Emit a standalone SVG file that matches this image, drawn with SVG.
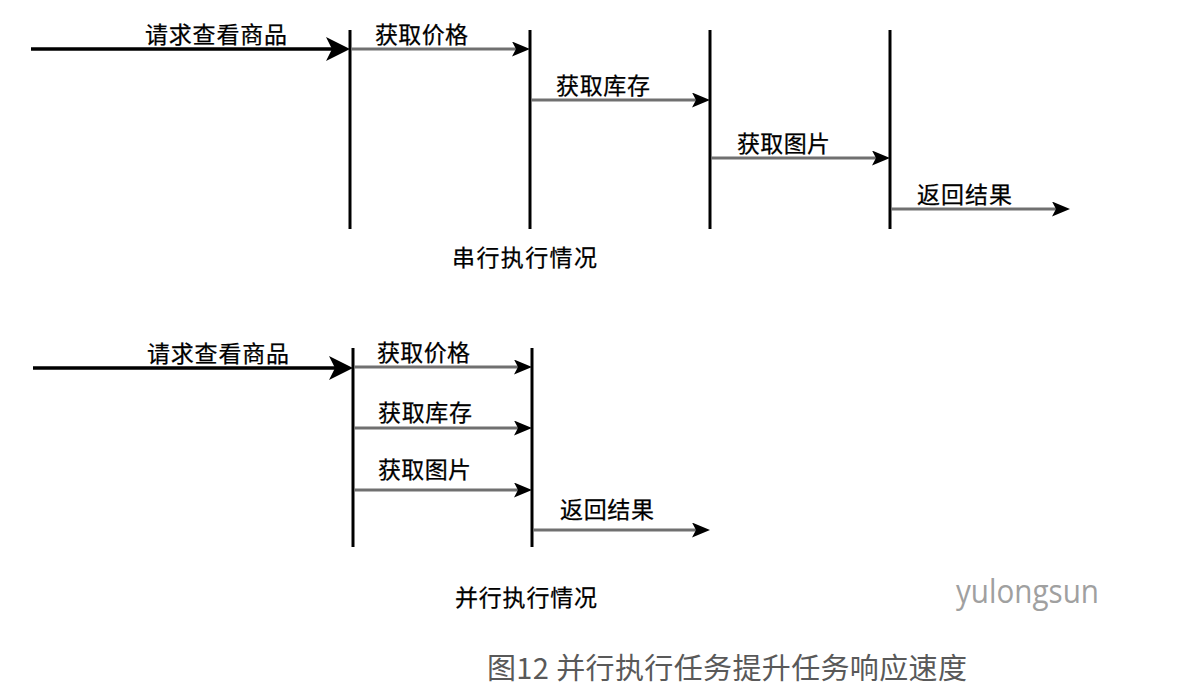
<svg xmlns="http://www.w3.org/2000/svg" width="1199" height="698" viewBox="0 0 1199 698">
  <style>
    .bar { stroke: #000; stroke-width: 3; fill: none; }
    .thick { stroke: #000; stroke-width: 3.5; fill: none; }
    .thin { stroke: #707070; stroke-width: 3; fill: none; }
    .lbl { font-family: "Noto Sans CJK SC", sans-serif; font-size: 23px; fill: #000; stroke: #000; stroke-width: 0.25; }
    .cap { font-family: "Noto Sans CJK SC", sans-serif; font-size: 29px; fill: #595959; }
    .wm { font-family: "Open Sans", "Noto Sans", sans-serif; font-size: 33px; fill: #a0a0a0; }
  </style>
  <defs>
    <marker id="bigHead" markerUnits="userSpaceOnUse" viewBox="0 0 24 24" markerWidth="24" markerHeight="24" refX="14" refY="12" orient="auto">
      <path d="M0,0 L24,12 L0,24 L6,12 Z" fill="#000"/>
    </marker>
    <marker id="smallHead" markerUnits="userSpaceOnUse" viewBox="0 0 18 15" markerWidth="18" markerHeight="15" refX="10" refY="7.5" orient="auto">
      <path d="M0,0 L18,7.5 L0,15 L4,7.5 Z" fill="#000"/>
    </marker>
  </defs>
  <rect width="1199" height="698" fill="#fff"/>

  <!-- Serial execution: stage bars -->
  <g id="serial-stage-1"><line class="bar" x1="350" y1="30" x2="350" y2="229"/></g>
  <g id="serial-stage-2"><line class="bar" x1="530" y1="30" x2="530" y2="229"/></g>
  <g id="serial-stage-3"><line class="bar" x1="710" y1="30" x2="710" y2="229"/></g>
  <g id="serial-stage-4"><line class="bar" x1="890" y1="30" x2="890" y2="229"/></g>
  <g id="serial-title"><text class="lbl" x="452" y="266" textLength="145" lengthAdjust="spacing">串行执行情况</text></g>

  <!-- Parallel execution: stage bars -->
  <g id="parallel-stage-1"><line class="bar" x1="353" y1="348" x2="353" y2="547"/></g>
  <g id="parallel-stage-2"><line class="bar" x1="532" y1="348" x2="532" y2="547"/></g>
  <g id="parallel-title"><text class="lbl" x="455" y="606" textLength="142" lengthAdjust="spacing">并行执行情况</text></g>

  <!-- Connectors -->
  <g id="connectors">
    <line class="thick" x1="31" y1="49" x2="340" y2="49" marker-end="url(#bigHead)"/>
    <line class="thin" x1="351" y1="49" x2="522" y2="49" marker-end="url(#smallHead)"/>
    <line class="thin" x1="531" y1="100" x2="702" y2="100" marker-end="url(#smallHead)"/>
    <line class="thin" x1="711" y1="158" x2="882" y2="158" marker-end="url(#smallHead)"/>
    <line class="thin" x1="891" y1="209" x2="1062" y2="209" marker-end="url(#smallHead)"/>

    <line class="thick" x1="33" y1="368" x2="343" y2="368" marker-end="url(#bigHead)"/>
    <line class="thin" x1="354" y1="367" x2="524" y2="367" marker-end="url(#smallHead)"/>
    <line class="thin" x1="354" y1="428" x2="524" y2="428" marker-end="url(#smallHead)"/>
    <line class="thin" x1="354" y1="490" x2="524" y2="490" marker-end="url(#smallHead)"/>
    <line class="thin" x1="533" y1="530" x2="702" y2="530" marker-end="url(#smallHead)"/>
  </g>

  <!-- Connector labels -->
  <g id="connector-labels">
    <text class="lbl" x="145" y="43" textLength="142" lengthAdjust="spacing">请求查看商品</text>
    <text class="lbl" x="375" y="43" textLength="93" lengthAdjust="spacing">获取价格</text>
    <text class="lbl" x="556" y="94" textLength="94" lengthAdjust="spacing">获取库存</text>
    <text class="lbl" x="737" y="152" textLength="93" lengthAdjust="spacing">获取图片</text>
    <text class="lbl" x="917" y="203" textLength="95" lengthAdjust="spacing">返回结果</text>

    <text class="lbl" x="147" y="362" textLength="142" lengthAdjust="spacing">请求查看商品</text>
    <text class="lbl" x="377" y="361" textLength="93" lengthAdjust="spacing">获取价格</text>
    <text class="lbl" x="378" y="421" textLength="94" lengthAdjust="spacing">获取库存</text>
    <text class="lbl" x="378" y="478" textLength="93" lengthAdjust="spacing">获取图片</text>
    <text class="lbl" x="560" y="518" textLength="94" lengthAdjust="spacing">返回结果</text>
  </g>

  <!-- Watermark and caption -->
  <g id="watermark"><text class="wm" x="956" y="603" textLength="143" lengthAdjust="spacingAndGlyphs">yulongsun</text></g>
  <g id="caption"><text class="cap" x="487" y="679" textLength="480" lengthAdjust="spacing">图12 并行执行任务提升任务响应速度</text></g>
</svg>
